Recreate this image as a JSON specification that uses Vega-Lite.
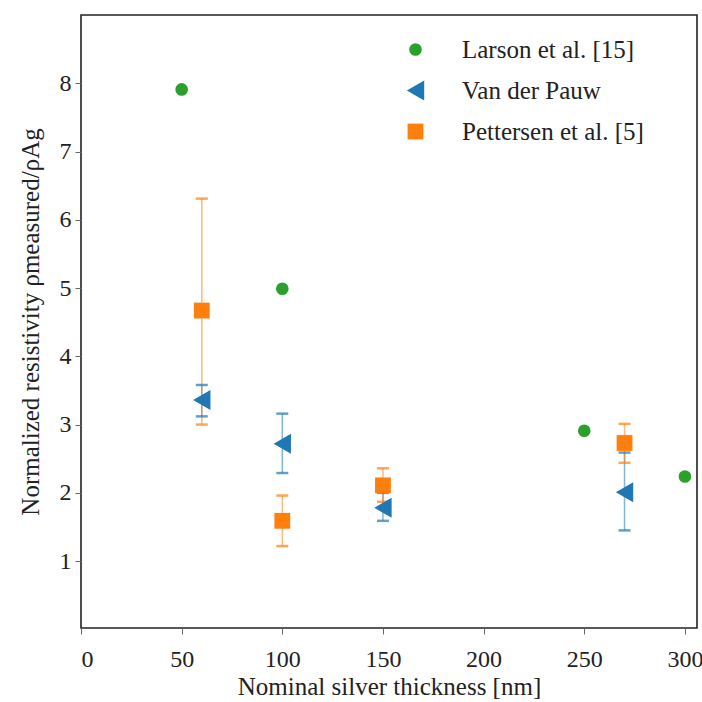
{
  "$schema": "https://vega.github.io/schema/vega-lite/v6.json",
  "width": 616,
  "height": 613,
  "autosize": {"type": "none"},
  "padding": {"left": 81, "top": 15, "right": 5, "bottom": 74},
  "background": "white",
  "config": {
    "font": "Liberation Serif",
    "view": {"stroke": "#222", "strokeWidth": 1.6},
    "axis": {
      "grid": false, "domain": false, "tickColor": "#666", "tickSize": 6, "tickWidth": 1,
      "labelFont": "Liberation Serif", "labelFontSize": 24, "labelColor": "#222",
      "titleFont": "Liberation Serif", "titleFontSize": 25, "titleFontWeight": "normal", "titleColor": "#222"
    },
    "legend": {"labelFont": "Liberation Serif", "labelFontSize": 25, "labelColor": "#222", "labelLimit": 400}
  },
  "datasets": {
    "pts": [
      {"series": "Larson et al. [15]", "x": 50, "y": 7.91},
      {"series": "Larson et al. [15]", "x": 100, "y": 4.99},
      {"series": "Larson et al. [15]", "x": 250, "y": 2.91},
      {"series": "Larson et al. [15]", "x": 300, "y": 2.24},
      {"series": "Van der Pauw", "x": 60, "y": 3.36, "lo": 3.12, "hi": 3.58},
      {"series": "Van der Pauw", "x": 100, "y": 2.72, "lo": 2.29, "hi": 3.16},
      {"series": "Van der Pauw", "x": 150, "y": 1.78, "lo": 1.59, "hi": 2.0},
      {"series": "Van der Pauw", "x": 270, "y": 2.01, "lo": 1.45, "hi": 2.59},
      {"series": "Pettersen et al. [5]", "x": 60, "y": 4.67, "lo": 3.0, "hi": 6.31},
      {"series": "Pettersen et al. [5]", "x": 100, "y": 1.59, "lo": 1.22, "hi": 1.96},
      {"series": "Pettersen et al. [5]", "x": 150, "y": 2.11, "lo": 1.87, "hi": 2.36},
      {"series": "Pettersen et al. [5]", "x": 270, "y": 2.73, "lo": 2.44, "hi": 3.01}
    ]
  },
  "layer": [
    {
      "mark": {"type": "rule", "strokeDash": [9, 6], "color": "#555", "strokeWidth": 1.6},
      "encoding": {"y": {"datum": 1, "type": "quantitative"}}
    },
    {
      "data": {"name": "pts"},
      "transform": [{"filter": "isValid(datum.lo)"}],
      "mark": {"type": "rule", "strokeWidth": 1.5, "strokeOpacity": 0.55},
      "encoding": {
        "x": {"field": "x", "type": "quantitative"},
        "y": {"field": "lo", "type": "quantitative"},
        "y2": {"field": "hi"},
        "color": {"field": "series", "type": "nominal"}
      }
    },
    {
      "data": {"name": "pts"},
      "transform": [{"filter": "isValid(datum.lo)"}],
      "mark": {"type": "tick", "orient": "horizontal", "size": 12, "thickness": 2.5},
      "encoding": {
        "x": {"field": "x", "type": "quantitative"},
        "y": {"field": "lo", "type": "quantitative"},
        "color": {"field": "series", "type": "nominal"}
      }
    },
    {
      "data": {"name": "pts"},
      "transform": [{"filter": "isValid(datum.lo)"}],
      "mark": {"type": "tick", "orient": "horizontal", "size": 12, "thickness": 2.5},
      "encoding": {
        "x": {"field": "x", "type": "quantitative"},
        "y": {"field": "hi", "type": "quantitative"},
        "color": {"field": "series", "type": "nominal"}
      }
    },
    {
      "data": {"name": "pts"},
      "mark": {"type": "point", "filled": true, "opacity": 1},
      "encoding": {
        "x": {"field": "x", "type": "quantitative", "scale": {"domain": [0, 306], "nice": false, "zero": false},
              "axis": {"values": [0, 50, 100, 150, 200, 250, 300], "format": "d", "labelPadding": 13, "title": "Nominal silver thickness [nm]", "titlePadding": 3}},
        "y": {"field": "y", "type": "quantitative", "scale": {"domain": [0.02, 9.0], "nice": false, "zero": false},
              "axis": {"values": [1, 2, 3, 4, 5, 6, 7, 8], "format": "d", "labelPadding": 4, "title": "Normalized resistivity ρmeasured/ρAg", "titlePadding": 16}},
        "color": {"field": "series", "type": "nominal",
                  "scale": {"domain": ["Larson et al. [15]", "Van der Pauw", "Pettersen et al. [5]"], "range": ["#2ca02c", "#1f77b4", "#ff7f0e"]},
                  "legend": {"orient": "none", "legendX": 322, "legendY": 22, "title": null, "rowPadding": 15, "labelOffset": 34, "symbolOpacity": 1, "symbolStrokeWidth": 0,
                             "encode": {"symbols": {"update": {"opacity": {"value": 1}, "fillOpacity": {"value": 1}}}}}},
        "shape": {"field": "series", "type": "nominal",
                  "scale": {"domain": ["Larson et al. [15]", "Van der Pauw", "Pettersen et al. [5]"], "range": ["circle", "triangle-left", "square"]}},
        "size": {"field": "series", "type": "nominal", "legend": null,
                 "scale": {"type": "ordinal", "domain": ["Larson et al. [15]", "Van der Pauw", "Pettersen et al. [5]"], "range": [160, 400, 250]}}
      }
    }
  ]
}
